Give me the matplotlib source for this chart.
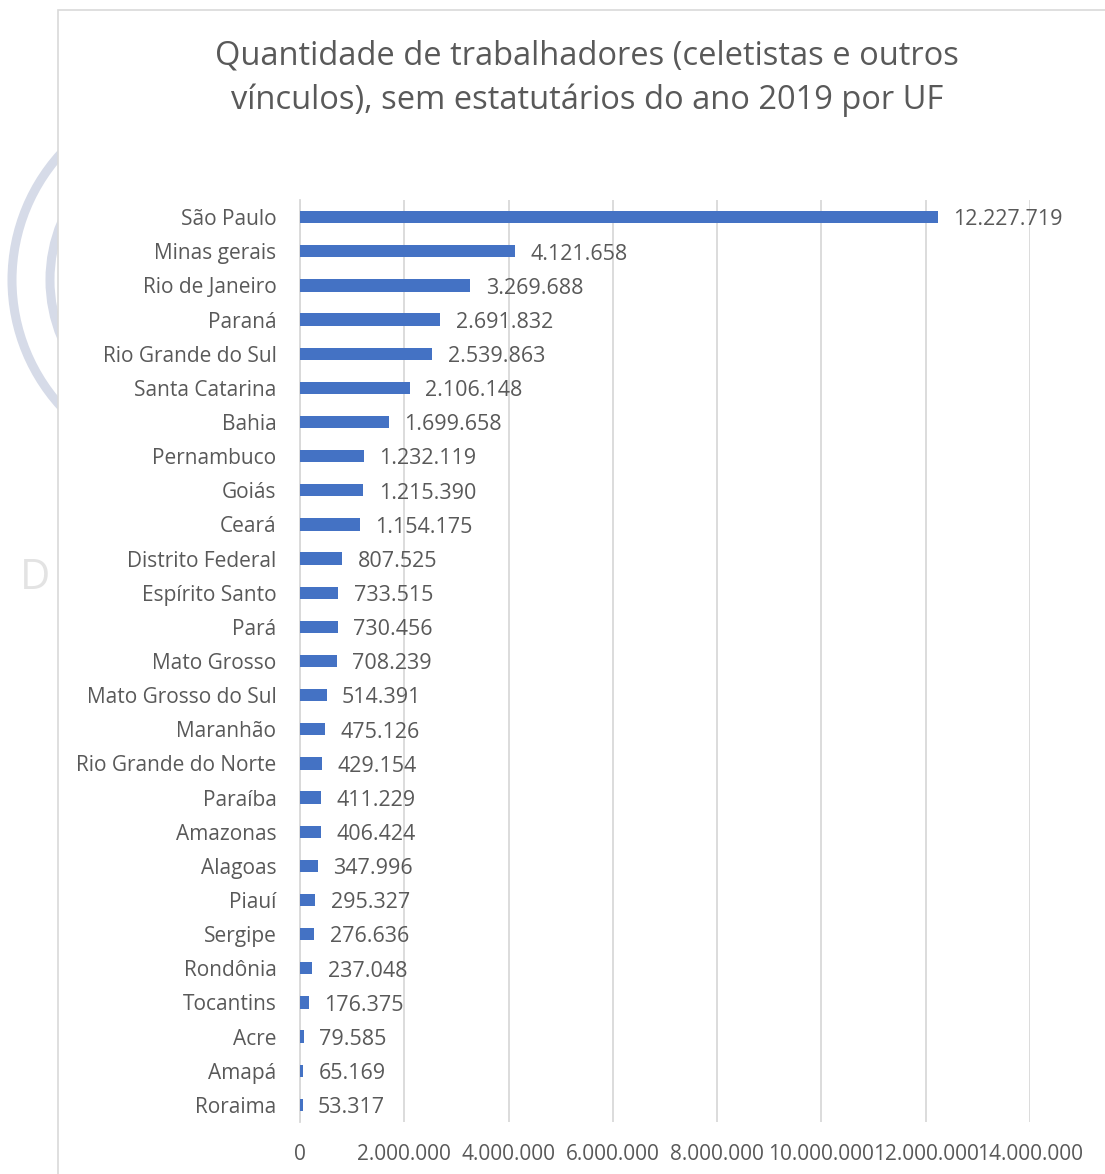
import matplotlib.pyplot as plt
from matplotlib.patches import Rectangle, Arc
from matplotlib.ticker import FuncFormatter

# ============================================================
#  Data
# ============================================================

ufs = ["São Paulo", "Minas gerais", "Rio de Janeiro", "Paraná", "Rio Grande do Sul",
       "Santa Catarina", "Bahia", "Pernambuco", "Goiás", "Ceará", "Distrito Federal",
       "Espírito Santo", "Pará", "Mato Grosso", "Mato Grosso do Sul", "Maranhão",
       "Rio Grande do Norte", "Paraíba", "Amazonas", "Alagoas", "Piauí", "Sergipe",
       "Rondônia", "Tocantins", "Acre", "Amapá", "Roraima"]
trabalhadores = [12227719, 4121658, 3269688, 2691832, 2539863, 2106148, 1699658,
                 1232119, 1215390, 1154175, 807525, 733515, 730456, 708239, 514391,
                 475126, 429154, 411229, 406424, 347996, 295327, 276636, 237048,
                 176375, 79585, 65169, 53317]
x_ticks = [0, 2000000, 4000000, 6000000, 8000000, 10000000, 12000000, 14000000]

TITLE = ("Quantidade de trabalhadores (celetistas e outros\n"
         "vínculos), sem estatutários do ano 2019 por UF")

BAR_COLOR = "#4472C4"
TEXT_COLOR = "#595959"
GRID_COLOR = "#D9D9D9"

plt.rcParams["font.family"] = ["Open Sans", "DejaVu Sans"]


def br_fmt(v):
    return f"{int(round(v)):,}".replace(",", ".")


# ============================================================
#  Plot
# ============================================================

W, H = 1105, 1174
fig = plt.figure(figsize=(W / 100, H / 100), dpi=100)

# faint watermark behind the chart frame (left edge)
wm = "#D6DBE8"
for r in [188, 150]:
    fig.add_artist(Arc((200 / W, 1 - 280 / H), 2 * r / W, 2 * r / H,
                       theta1=90, theta2=270, transform=fig.transFigure,
                       color=wm, lw=6.5, zorder=-2))
fig.text(20 / W, 1 - 578 / H, "D", fontsize=30, color="#E3E3E3",
         va="center", ha="left", zorder=-2)

# chart frame
fig.add_artist(Rectangle((58 / W, -0.01), 1.1, 1 - 10 / H + 0.01,
                         transform=fig.transFigure, facecolor="white",
                         edgecolor="#D9D9D9", lw=1.2, zorder=-1))

ax = fig.add_axes([300 / W, 52 / H, 730 / W, 922 / H])
ax.set_facecolor("none")

y = list(range(len(ufs)))
ax.barh(y, trabalhadores, height=0.36, color=BAR_COLOR, zorder=3)

for yi, v in zip(y, trabalhadores):
    ax.annotate(br_fmt(v), xy=(v, yi), xytext=(11, -2), textcoords="offset points",
                va="center", ha="left", fontsize=15.5, color=TEXT_COLOR)

ax.set_ylim(len(ufs) - 0.5, -0.5)
ax.set_yticks(y)
ax.set_yticklabels(ufs, fontsize=15, color=TEXT_COLOR)
ax.set_xlim(0, 14000000)
ax.set_xticks(x_ticks)
ax.xaxis.set_major_formatter(FuncFormatter(lambda v, p: br_fmt(v)))
ax.tick_params(axis="x", length=0, pad=16, labelsize=15, labelcolor=TEXT_COLOR)
ax.tick_params(axis="y", length=0, pad=17)
for lbl in ax.get_yticklabels():
    lbl.set_y(lbl.get_position()[1])

ax.grid(axis="x", color=GRID_COLOR, lw=1.3, zorder=0)
for s in ["top", "right", "bottom"]:
    ax.spines[s].set_visible(False)
ax.spines["left"].set_color(GRID_COLOR)
ax.spines["left"].set_linewidth(1.3)

fig.text(587 / W, 1 - 78 / H, TITLE, ha="center", va="center",
         fontsize=23.5, color=TEXT_COLOR, linespacing=1.45)

fig.savefig("out.png", dpi=100)
